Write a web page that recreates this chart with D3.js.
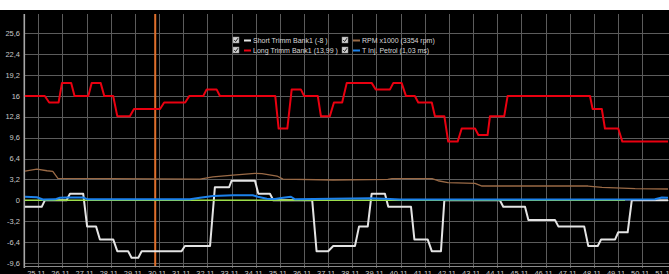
<!DOCTYPE html>
<html><head><meta charset="utf-8">
<script src="https://cdn.jsdelivr.net/npm/d3@7"></script>
<style>
html,body{margin:0;padding:0;background:#fff;}
svg{display:block;}
</style></head><body>
<script>
// ---- data ----
const xTickValues = d3.range(25, 52);
const xTickLabels = xTickValues.map(v => v + ",11");
const yTickValues = [25.6, 22.4, 19.2, 16, 12.8, 9.6, 6.4, 3.2, 0, -3.2, -6.4, -9.6];
const yTickLabels = ["25,6", "22,4", "19,2", "16", "12,8", "9,6", "6,4", "3,2", "0", "-3,2", "-6,4", "-9,6"];

const legendNames = ["Short Trimm Bank1 (-8 )", "Long Trimm Bank1 (13,99 )", "RPM x1000 (3354 rpm)", "T Inj. Petrol (1,03 ms)"];

const longTrimTime = [24.44,25.27,25.45,25.84,25.98,26.36,26.50,27.07,27.21,27.58,27.73,28.10,28.27,28.79,28.96,30.04,30.21,31.08,31.25,31.83,31.97,32.38,32.52,34.81,34.95,35.31,35.49,35.87,36.00,36.57,36.70,37.07,37.24,37.58,37.77,38.80,38.97,39.56,39.70,40.04,40.22,40.59,40.73,41.29,41.42,41.81,41.97,42.36,42.53,43.08,43.22,43.60,43.70,44.29,44.43,47.84,47.95,48.33,48.46,49.01,49.18,51.07];
const longTrimValue = [16,16,15,15,18,18,16,16,18,18,16,16,12.9,12.9,14,14,15,15,16,16,17,17,16,16,11,11,17,17,16,16,12.9,12.9,15,15,18,18,17,17,18,18,16,16,15,15,12.9,12.9,9,9,11,11,10,10,12.9,12.9,16,16,14,14,11,11,9,9];

const shortTrimTime = [24.44,25.14,25.27,26.17,26.31,26.86,27.02,27.39,27.55,28.10,28.27,28.72,28.86,29.14,29.28,30.93,31.07,32.11,32.31,32.90,33.00,33.97,34.11,34.59,34.73,36.34,36.52,37.00,37.21,38.11,38.28,38.64,38.80,39.35,39.49,40.43,40.57,41.12,41.29,41.67,41.81,44.11,44.25,45.15,45.29,46.39,46.53,47.60,47.77,48.16,48.30,48.88,49.01,49.40,49.57,51.07];
const shortTrimValue = [-1,-1,0,0,1,1,-4,-4,-6,-6,-7.8,-7.8,-8.8,-8.8,-7.8,-7.8,-7,-7,2,2,3,3,1,1,0,0,-7.8,-7.8,-7,-7,-4,-4,1,1,-1,-1,-6,-6,-7.8,-7.8,0,0,-1,-1,-3,-3,-4,-4,-7,-7,-6,-6,-4.9,-4.9,0,0];

const rpmTime = [24.45,24.94,25.36,25.60,25.81,27.97,31.69,32.23,33.06,33.97,34.26,34.88,35.13,37.20,39.47,39.64,41.30,41.55,41.96,43.08,43.37,47.76,48.34,49.71,51.07];
const rpmValue = [4.49,4.79,4.53,4.44,3.37,3.31,3.26,3.60,3.87,4.13,4.10,3.72,3.26,3.11,3.20,3.31,3.31,3.00,2.70,2.60,2.19,2.19,1.99,1.78,1.73];

const injTime = [24.45,24.94,25.19,25.69,25.89,26.18,26.85,27.05,31.28,31.69,32.23,33.06,33.88,34.09,34.46,34.80,35.13,35.46,35.63,38.73,39.56,39.97,50.53,50.82,51.07];
const injValue = [0.55,0.46,0.12,0.15,0.40,0.43,0.43,0.15,0.15,0.40,0.66,0.77,0.77,0.55,0.25,0.20,0.40,0.55,0.15,0.30,0.20,0.12,0.15,0.43,0.40];

const zeroTime = [24.44, 49.29];
const zeroValue = [0, 0];

const cursorTime = 29.84;

// ---- chart ----
const W = 669, H = 274;
const svg = d3.select("body").append("svg").attr("width", W).attr("height", H);
svg.append("rect").attr("x", 0).attr("y", 10).attr("width", W).attr("height", H - 10).attr("fill", "#000");

const x = d3.scaleLinear().domain([24.42, 51.07]).range([24.3, 668]);
const y = d3.scaleLinear().domain([-10.07, 28.56]).range([266, 14]);
const plotTop = 14, plotBottom = 266, plotLeft = 24.3, plotRight = W;

const font = "'Liberation Sans', Arial, sans-serif";

// grid
const g = svg.append("g");
g.selectAll("line.h").data(yTickValues).join("line")
  .attr("x1", plotLeft).attr("x2", plotRight)
  .attr("y1", d => Math.round(y(d)) + 0.5).attr("y2", d => Math.round(y(d)) + 0.5)
  .attr("stroke", "#5c5c5c").attr("stroke-width", 1);
g.selectAll("line.v").data(xTickValues.filter(v => v <= 50)).join("line")
  .attr("x1", d => Math.round(x(d)) + 0.5).attr("x2", d => Math.round(x(d)) + 0.5)
  .attr("y1", plotTop).attr("y2", plotBottom + 2)
  .attr("stroke", "#5c5c5c").attr("stroke-width", 1);
// axes lines
g.append("line").attr("x1", plotLeft).attr("x2", plotLeft).attr("y1", plotTop).attr("y2", plotBottom + 2)
  .attr("stroke", "#a8a8a8").attr("stroke-width", 1.6);
g.append("line").attr("x1", plotLeft).attr("x2", plotRight).attr("y1", plotBottom + 0.5).attr("y2", plotBottom + 0.5)
  .attr("stroke", "#8a8a8a").attr("stroke-width", 1);

// y labels
svg.selectAll("text.yl").data(yTickValues).join("text")
  .attr("x", 20).attr("y", d => y(d) + 2.6)
  .attr("text-anchor", "end").attr("font-family", font).attr("font-size", 7.5)
  .attr("fill", "#c8c8c8").text((d, i) => yTickLabels[i]);
// x labels
svg.selectAll("text.xl").data(xTickValues).join("text")
  .attr("x", d => x(d) - 2).attr("y", 275.5)
  .attr("text-anchor", "middle").attr("font-family", font).attr("font-size", 7.5)
  .attr("fill", "#c8c8c8").text((d, i) => xTickLabels[i]);

// cursor
svg.append("line").attr("x1", x(cursorTime)).attr("x2", x(cursorTime)).attr("y1", plotTop).attr("y2", plotBottom)
  .attr("stroke", "#e0702c").attr("stroke-width", 2);

function drawSeries(times, values, color, width) {
  const pts = times.map((t, i) => [t, values[i]]);
  svg.append("path").datum(pts)
    .attr("d", d3.line().x(d => x(d[0])).y(d => y(d[1])))
    .attr("fill", "none").attr("stroke", color).attr("stroke-width", width)
    .attr("stroke-linejoin", "round");
}
drawSeries(shortTrimTime, shortTrimValue, "#e4e4e4", 2);
drawSeries(rpmTime, rpmValue, "#9a6a46", 1.3);
drawSeries(zeroTime, zeroValue, "#9ddf4c", 1.5);
drawSeries(injTime, injValue, "#1c82ec", 2);
drawSeries(longTrimTime, longTrimValue, "#ea0010", 2);

// legend
const legendColors = ["#e4e4e4", "#ea0010", "#9a6a46", "#1c82ec"];
const legPos = [[233, 40], [233, 50], [342, 40], [342, 50]];
legendNames.forEach((name, i) => {
  const [lx, ly] = legPos[i];
  const lg = svg.append("g");
  lg.append("rect").attr("x", lx).attr("y", ly - 3).attr("width", 6).attr("height", 6)
    .attr("fill", "#d0d0d0").attr("stroke", "#888").attr("stroke-width", 0.5);
  lg.append("path").attr("d", `M${lx + 1.2},${ly} L${lx + 2.6},${ly + 1.6} L${lx + 5},${ly - 1.8}`)
    .attr("fill", "none").attr("stroke", "#222").attr("stroke-width", 1);
  lg.append("line").attr("x1", lx + 11).attr("x2", lx + 18).attr("y1", ly + 0.5).attr("y2", ly + 0.5)
    .attr("stroke", legendColors[i]).attr("stroke-width", 2);
  lg.append("text").attr("x", lx + 20).attr("y", ly + 2.5)
    .attr("font-family", font).attr("font-size", 7).attr("fill", "#d8d8d8").text(name);
});
</script>
</body></html>
